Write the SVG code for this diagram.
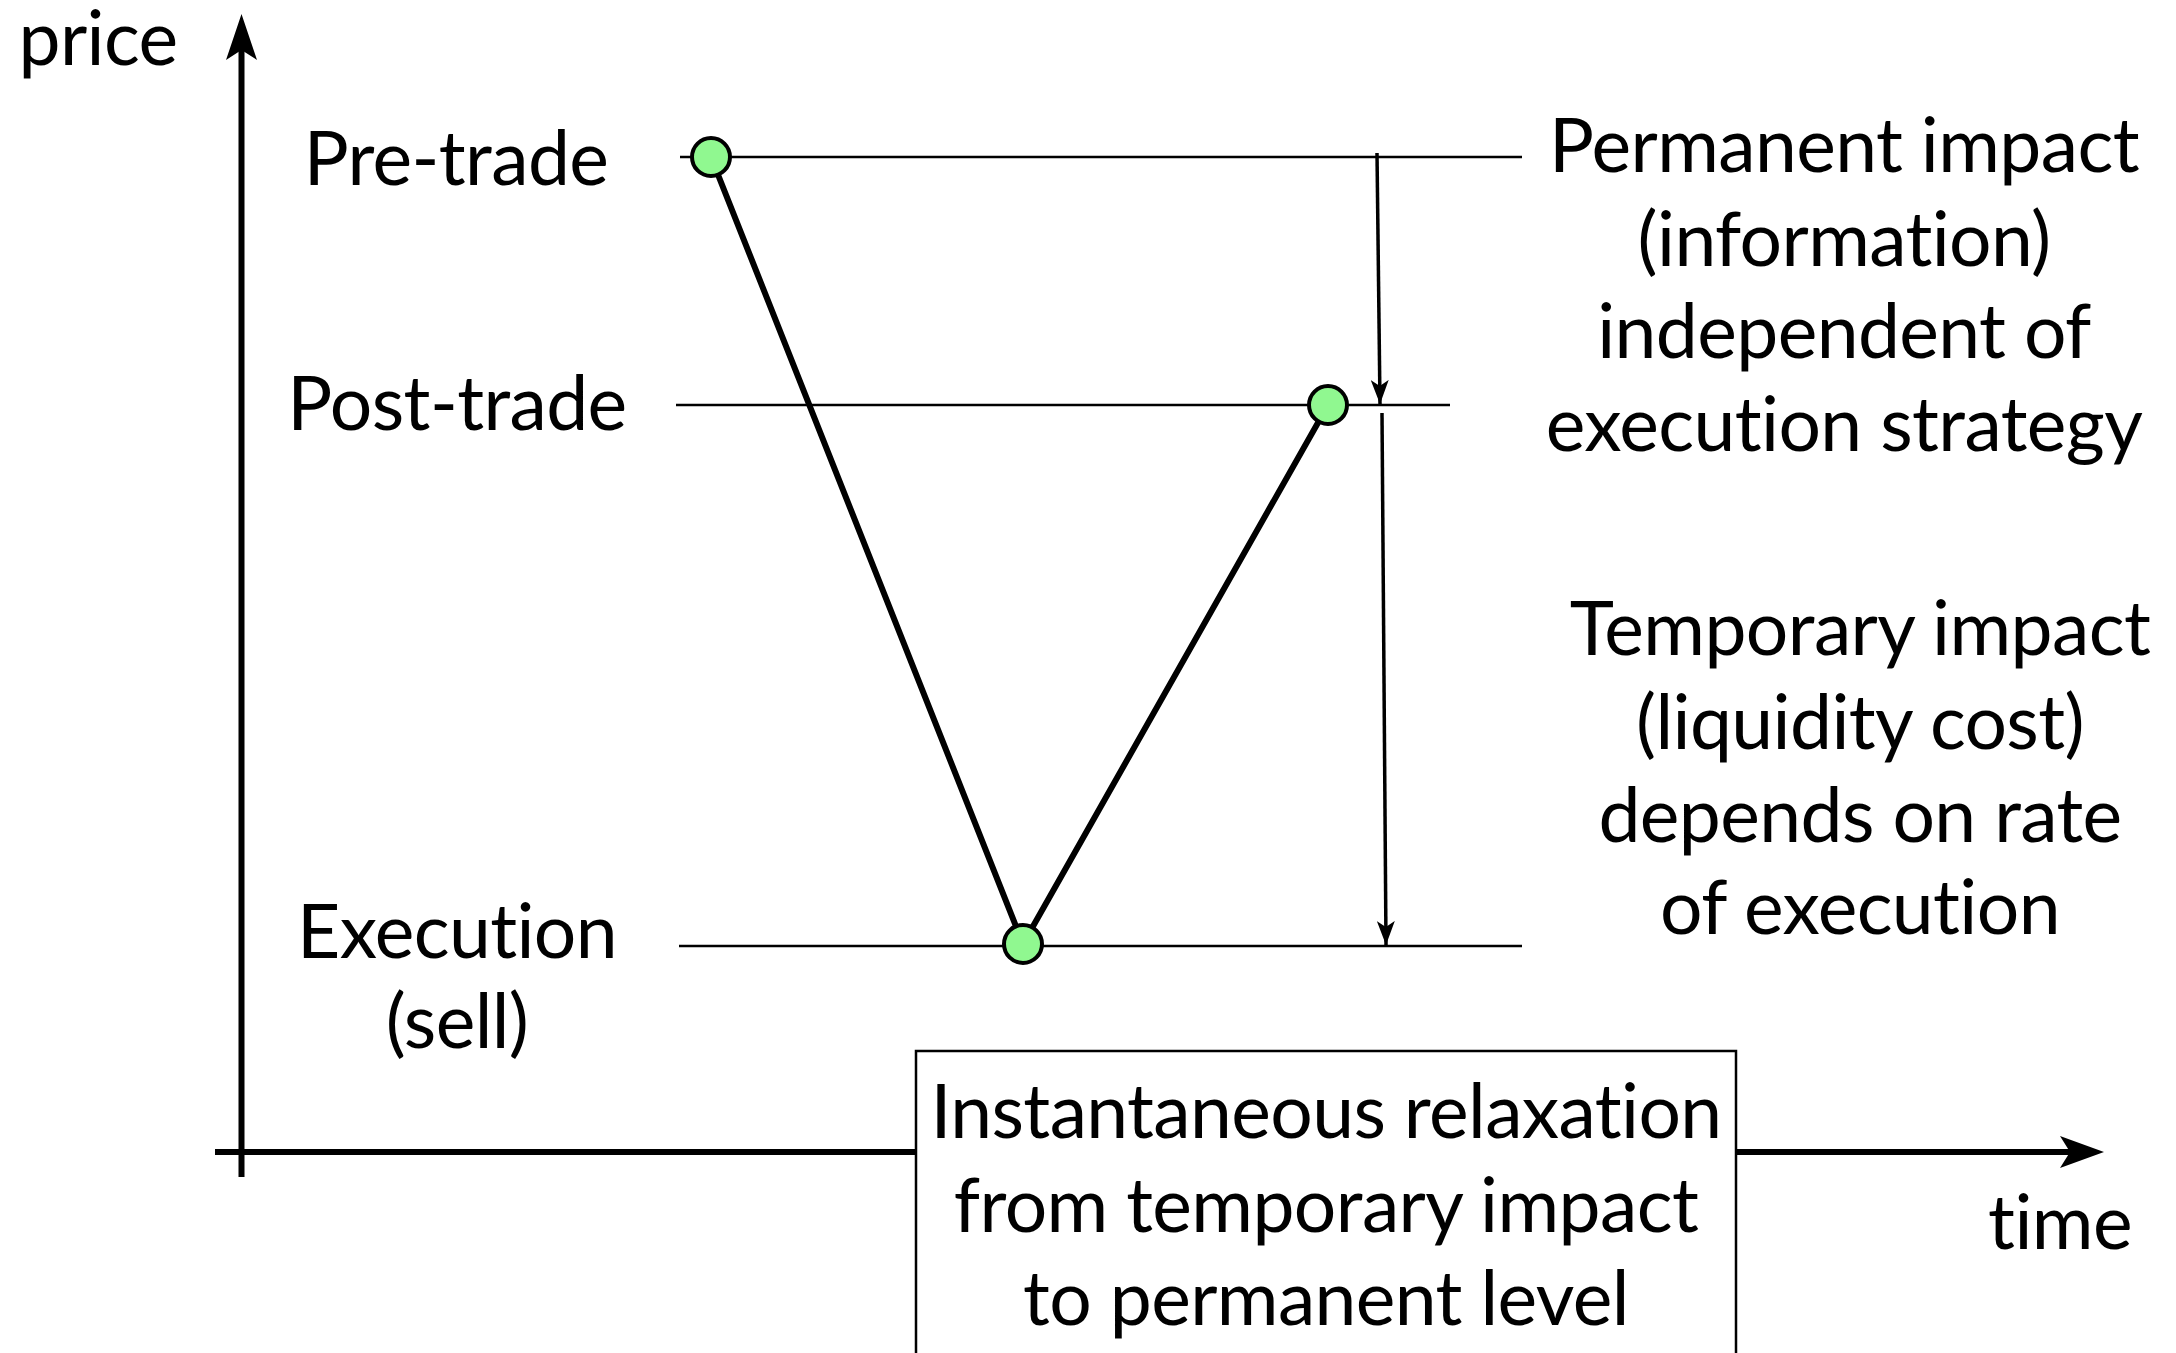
<svg xmlns="http://www.w3.org/2000/svg" width="2176" height="1353" viewBox="0 0 2176 1353">
<defs>
<style>
.t{font-family:Lato,"Liberation Sans",sans-serif;font-size:75px;letter-spacing:-0.6px;fill:#000;text-anchor:middle}
.lvl{stroke:#000;stroke-width:2.5;fill:none}
.v{stroke:#000;stroke-width:6;fill:none;stroke-linejoin:round}
.arr{stroke:#000;stroke-width:3.5;fill:none}
.dot{fill:#90F890;stroke:#000;stroke-width:4}
</style>
<marker id="ah" viewBox="0 0 24 18" refX="24" refY="9" markerWidth="24" markerHeight="18" markerUnits="userSpaceOnUse" orient="auto">
<path d="M0,0 L24,9 L0,18 L6,9 Z" fill="#000"/>
</marker>
</defs>
<rect width="2176" height="1353" fill="#fff"/>
<g id="axes">
<line x1="241.5" y1="1177" x2="241.5" y2="50" stroke="#000" stroke-width="6"/>
<path d="M241.5,14 L257,60 L241.5,50 L226,60 Z" fill="#000"/>
<line x1="215" y1="1152" x2="2070" y2="1152" stroke="#000" stroke-width="6"/>
<path d="M2104,1152 L2060,1136 L2070,1152 L2060,1168 Z" fill="#000"/>
<text class="t" x="98" y="65">price</text>
<text class="t" x="2060" y="1249">time</text>
</g>
<g id="levels">
<line class="lvl" x1="680" y1="157" x2="1522" y2="157"/>
<line class="lvl" x1="676" y1="405" x2="1450" y2="405"/>
<line class="lvl" x1="679" y1="946" x2="1522" y2="946"/>
</g>
<g id="connectors">
<polyline class="v" points="711,157 1023,944 1328,405"/>
<line class="arr" x1="1377" y1="153" x2="1380" y2="404" marker-end="url(#ah)"/>
<line class="arr" x1="1382" y1="413" x2="1386" y2="945" marker-end="url(#ah)"/>
</g>
<g id="pre-trade">
<text class="t" x="456" y="185">Pre-trade</text>
<circle class="dot" cx="711" cy="157" r="19"/>
</g>
<g id="post-trade">
<text class="t" x="457" y="430">Post-trade</text>
<circle class="dot" cx="1328" cy="405" r="19"/>
</g>
<g id="execution">
<text class="t" x="457" y="958">Execution</text>
<text class="t" x="457" y="1048">(sell)</text>
<circle class="dot" cx="1023" cy="944" r="19"/>
</g>
<g id="permanent-impact">
<text class="t" x="1844" y="172">Permanent impact</text>
<text class="t" x="1844" y="266">(information)</text>
<text class="t" x="1844" y="358">independent of</text>
<text class="t" x="1844" y="451">execution strategy</text>
</g>
<g id="temporary-impact">
<text class="t" x="1860" y="655">Temporary impact</text>
<text class="t" x="1860" y="749">(liquidity cost)</text>
<text class="t" x="1860" y="842">depends on rate</text>
<text class="t" x="1860" y="934">of execution</text>
</g>
<g id="relaxation">
<rect x="916" y="1051" width="820" height="320" fill="#fff" stroke="#000" stroke-width="2.5"/>
<text class="t" x="1326" y="1138">Instantaneous relaxation</text>
<text class="t" x="1326" y="1232">from temporary impact</text>
<text class="t" x="1326" y="1325">to permanent level</text>
</g>
</svg>
